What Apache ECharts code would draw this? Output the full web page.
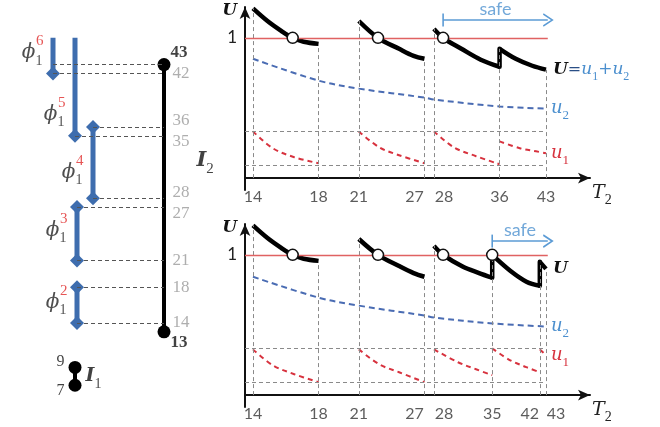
<!DOCTYPE html>
<html>
<head>
<meta charset="utf-8">
<script src="https://cdn.jsdelivr.net/npm/echarts@6/dist/echarts.min.js"></script>
<style>
html, body { margin: 0; background: #fff; }
#main { width: 660px; height: 427px; }
</style>
</head>
<body>
<div id="main"></div>
<script>
// ---- left panel: periods on the I2 scale
const phaseSup = ['6', '5', '4', '3', '2'];
const phaseLow = [42, 35, 28, 21, 14];
const phaseHigh = [46, 46, 36, 27, 18];        // 46 = runs off the top (open)
const phaseOpenTop = [true, true, false, false, false];
const phaseLane = [0, 1.1, 2, 1.2, 1.2];
const phaseTagAt = [44.6, 37.7, 31.2, 24.7, 16.6];
const i2Span = [13, 43];
const i2Lane = 5.55;
const i1Span = [7, 9];
const i1Lane = 1.1;
const i2Marks = [42, 36, 35, 28, 27, 21, 18, 14];

// ---- right panels: T2 ticks
const topTicks = [14, 18, 21, 27, 28, 36, 43];
const botTicks = [14, 18, 21, 27, 28, 35, 42, 43];

// top panel, [T2, value]
const topU = [
  [[14, 1.21], [14.8, 1.12], [15.6, 1.05], [16.3, 1.0], [17, 0.972], [18, 0.957]],
  [[21, 1.12], [22.6, 1.0], [24.5, 0.922], [25.9, 0.872], [27, 0.851]],
  [[28, 1.064], [29, 1.0], [31.1, 0.922], [33.5, 0.844], [36, 0.794]],
  [[36, 0.794], [36, 0.922]],
  [[36, 0.922], [38.3, 0.851], [40.8, 0.801], [43, 0.773]]
];
const topU2 = [[14, 0.851], [18, 0.695], [21, 0.638], [27, 0.574], [28, 0.56], [36, 0.511], [43, 0.496]];
const topU1 = [
  [[14, 0.333], [15.1, 0.213], [16.4, 0.149], [18, 0.106]],
  [[21, 0.333], [22.7, 0.22], [24.5, 0.163], [27, 0.106]],
  [[28, 0.333], [30.2, 0.22], [32.9, 0.156], [36, 0.099]],
  [[36, 0.262], [38.9, 0.213], [41.4, 0.191], [43, 0.177]]
];
const topHits = [[16.3, 1], [22.6, 1], [29, 1]];
const topSafe = [29, 43.3, 1.127];
const topGuides = [0.333, 0.09];

// bottom panel
const botU = [
  [[14, 1.21], [14.8, 1.12], [15.6, 1.05], [16.3, 1.0], [17, 0.972], [18, 0.957]],
  [[21, 1.113], [22.6, 1.0], [24.5, 0.92], [25.9, 0.87], [27, 0.844]],
  [[28, 1.064], [29, 1.0], [31.3, 0.915], [33.2, 0.872], [35, 0.837]],
  [[35, 0.837], [35, 1.0]],
  [[35, 1.0], [37.5, 0.887], [39.9, 0.809], [42, 0.78]],
  [[42, 0.78], [42, 0.95]],
  [[42, 0.95], [43, 0.9]]
];
const botU2 = [[14, 0.844], [18, 0.695], [21, 0.638], [27, 0.567], [28, 0.553], [35, 0.511], [43, 0.489]];
const botU1 = [
  [[14, 0.326], [15.1, 0.213], [16.4, 0.149], [18, 0.092]],
  [[21, 0.326], [22.7, 0.22], [24.5, 0.163], [27, 0.092]],
  [[28, 0.326], [30.7, 0.234], [32.9, 0.184], [35, 0.142]],
  [[35, 0.333], [37.5, 0.248], [39.9, 0.199], [42, 0.163]],
  [[42, 0.326], [43, 0.284]]
];
const botHits = [[16.3, 1], [22.6, 1], [29, 1], [35, 1]];
const botSafe = [35, 43.3, 1.098];
const botGuides = [0.333, 0.092];

const tMin = 13.58, tMax = 50.9;
const uMin = -0.085, uMax = 1.22;

const SERIF = '"DejaVu Serif", serif';
const NUM = '"Liberation Serif", serif';
const SANS = 'Lato, "Open Sans", sans-serif';
const barBlue = '#3e6dae';
const lineBlue = '#4a6cb3';
const textBlue = '#4b8fce';
const red = '#d7323e';
const guide = '#8a8a8a';

// rich styles: a main italic letter and a lowered subscript digit
function letterSub(size, color, bold) {
  return {
    m: { fontFamily: SERIF, fontStyle: 'italic', fontWeight: bold ? 'bold' : 'normal', fontSize: size, color: color, lineHeight: Math.round(size * 1.5) },
    s: { fontFamily: NUM, fontSize: Math.round(size * 0.72), color: color, verticalAlign: 'bottom', lineHeight: Math.round(size * 0.8) }
  };
}

const chart = echarts.init(document.getElementById('main'));

function textMarks(g, data, label) {
  return {
    type: 'scatter', xAxisIndex: g, yAxisIndex: g, silent: true, z: 6,
    symbolSize: 1, itemStyle: { color: 'rgba(0,0,0,0)' },
    data: data, label: Object.assign({ show: true }, label)
  };
}

const series = [];

// blue period bars
phaseLow.forEach((lo, i) => {
  series.push({
    type: 'line', xAxisIndex: 0, yAxisIndex: 0, silent: true, z: 3,
    showSymbol: true, symbolSize: 14,
    lineStyle: { color: barBlue, width: 5 }, itemStyle: { color: barBlue },
    data: [
      { value: [phaseLane[i], lo], symbol: 'diamond' },
      { value: [phaseLane[i], phaseHigh[i]], symbol: phaseOpenTop[i] ? 'none' : 'diamond' }
    ]
  });
});

// dashed links from bar ends to I2
const links = [];
phaseLow.forEach((lo, i) => {
  links.push([lo, phaseLane[i]]);
  if (!phaseOpenTop[i]) links.push([phaseHigh[i], phaseLane[i]]);
});
const coverLane = Math.min(...phaseLane.filter((l, i) => phaseLow[i] <= i2Span[1] && phaseHigh[i] >= i2Span[1]));
links.push([i2Span[1], coverLane]);
series.push({
  type: 'line', xAxisIndex: 0, yAxisIndex: 0, data: [], z: 1,
  markLine: {
    silent: true, symbol: 'none', label: { show: false },
    lineStyle: { color: '#555', width: 1, type: [4, 3] },
    data: links.map(([v, l]) => [{ coord: [l, v] }, { coord: [i2Lane, v] }])
  }
});

// I2 and I1 bars
[[i2Span, i2Lane], [i1Span, i1Lane]].forEach(([span, lane]) => {
  series.push({
    type: 'line', xAxisIndex: 0, yAxisIndex: 0, silent: true, z: 4,
    showSymbol: true, symbol: 'circle', symbolSize: 13,
    lineStyle: { color: '#000', width: 4 }, itemStyle: { color: '#000' },
    data: span.map(v => [lane, v])
  });
});

// close neighbours on the I2 scale are pushed apart: higher one up, lower one down
const nudge = (list, v) => list.includes(v - 1) ? -6 : list.includes(v + 1) ? 6 : 0;
series.push(textMarks(0, i2Marks.map(v => ({ value: [i2Lane, v], label: { offset: [0, nudge(i2Marks, v)] } })),
  { position: 'right', distance: 8, formatter: p => String(p.value[1]), fontFamily: NUM, fontSize: 17, color: '#9a9a9a' }));
series.push(textMarks(0, [
  { value: [i2Lane, i2Span[1]], label: { offset: [0, -12] } },
  { value: [i2Lane, i2Span[0]], label: { offset: [0, 11] } }
], { position: 'right', distance: 6, formatter: p => String(p.value[1]), fontFamily: NUM, fontWeight: 'bold', fontSize: 17, color: '#111' }));
series.push(textMarks(0, [
  { value: [i1Lane, i1Span[1]], label: { offset: [0, -6] } },
  { value: [i1Lane, i1Span[0]], label: { offset: [0, 6] } }
], { position: 'left', distance: 10, formatter: p => String(p.value[1]), fontFamily: NUM, fontSize: 16, color: '#111' }));
series.push(textMarks(0, [{ value: [i2Lane, (i2Span[0] + i2Span[1]) / 2], label: { offset: [0, -38] } }],
  { position: 'right', distance: 32, formatter: '{m|I}{s|2}', rich: letterSub(21, '#111', true) }));
series.push(textMarks(0, [[i1Lane, (i1Span[0] + i1Span[1]) / 2]],
  { position: 'right', distance: 10, formatter: '{m|I}{s|1}', rich: letterSub(19, '#111', true) }));
series.push(textMarks(0, phaseTagAt.map((v, i) => [phaseLane[i], v]),
  { position: 'left', distance: 10, offset: [0, 3], formatter: '{m|ϕ}{s|1}', rich: letterSub(20, '#222', false) }));
series.push(textMarks(0, phaseTagAt.map((v, i) => [phaseLane[i], v]),
  { position: 'left', distance: 10, offset: [1, -9], formatter: p => phaseSup[p.dataIndex], fontFamily: NUM, fontSize: 15, color: '#e02a2a' }));

// ---- right panels
function panel(g, ticks, uSegs, u2, u1Segs, hits, safe, guides, uText) {
  const allU = uSegs.flat();
  const peaks = ticks.map(t => Math.max(...allU.filter(p => p[0] === t).map(p => p[1])));
  const last = ticks[ticks.length - 1];
  series.push({
    type: 'line', xAxisIndex: g, yAxisIndex: g, data: [], z: 1,
    markLine: {
      silent: true, symbol: 'none', label: { show: false },
      lineStyle: { color: guide, width: 1, type: [4, 3] },
      data: ticks.map((t, i) => [{ coord: [t, 0] }, { coord: [t, peaks[i]] }])
        .concat(guides.map(v => [{ coord: [tMin, v] }, { coord: [last, v] }]))
    }
  });
  series.push({
    type: 'line', xAxisIndex: g, yAxisIndex: g, data: [], z: 1,
    markLine: {
      silent: true, symbol: 'none', label: { show: false },
      lineStyle: { color: '#e06262', width: 1.3, type: 'solid' },
      data: [[{ coord: [tMin, 1] }, { coord: [safe[1], 1] }]]
    }
  });
  series.push({
    type: 'line', xAxisIndex: g, yAxisIndex: g, silent: true, z: 3, smooth: 0.35, showSymbol: false,
    lineStyle: { color: lineBlue, width: 2, type: [6, 4] }, data: u2,
    endLabel: { show: true, distance: 5, formatter: '{m|u}{s|2}', rich: letterSub(18, textBlue, false) }
  });
  u1Segs.forEach((seg, i) => series.push({
    type: 'line', xAxisIndex: g, yAxisIndex: g, silent: true, z: 3, smooth: 0.35, showSymbol: false,
    lineStyle: { color: red, width: 2, type: [5, 4] }, data: seg,
    endLabel: { show: i === u1Segs.length - 1, distance: 5, formatter: '{m|u}{s|1}', rich: letterSub(18, red, false) }
  }));
  const uRich = letterSub(17, textBlue, false);
  uRich.b = { fontFamily: SERIF, fontStyle: 'italic', fontWeight: 'bold', fontSize: 17, color: '#111', lineHeight: 25 };
  uRich.e = { fontFamily: SERIF, fontSize: 16, color: '#2a4f86', lineHeight: 25 };
  uSegs.forEach((seg, i) => series.push({
    type: 'line', xAxisIndex: g, yAxisIndex: g, silent: true, z: 4, smooth: 0.35, showSymbol: false,
    lineStyle: { color: '#000', width: 4.5, cap: seg[0][0] === seg[seg.length - 1][0] ? 'round' : 'butt' }, data: seg,
    endLabel: { show: i === uSegs.length - 1, distance: 7, formatter: uText, rich: uRich }
  }));
  series.push({
    type: 'scatter', xAxisIndex: g, yAxisIndex: g, silent: true, z: 5, symbolSize: 11,
    itemStyle: { color: '#fff', opacity: 1, borderColor: '#111', borderWidth: 1.5 }, data: hits
  });
  // safe arrow
  series.push({
    type: 'line', xAxisIndex: g, yAxisIndex: g, silent: true, z: 5, showSymbol: true,
    lineStyle: { color: '#5b9bd5', width: 1.5 }, itemStyle: { color: '#5b9bd5' },
    data: [
      { value: [safe[0], safe[2]], symbol: 'rect', symbolSize: [1.6, 13] },
      { value: [safe[1], safe[2]], symbol: 'path://M0,0L9,5L0,10', symbolSize: [9, 12],
        itemStyle: { color: 'rgba(0,0,0,0)', borderColor: '#5b9bd5', borderWidth: 1.5 } }
    ]
  });
  series.push(textMarks(g, [[Math.sqrt(safe[0] * safe[1]), safe[2]]],
    { position: 'top', distance: 1, formatter: 'safe', fontFamily: SANS, fontSize: 18, color: '#4f92d0' }));
  // T2 tick labels
  const shift = t => ticks.includes(t + 1) ? -10 : ticks.includes(t - 1) ? 10 : 0;
  series.push(textMarks(g, ticks.map(t => ({ value: [t, 0], label: { offset: [shift(t), 0] } })),
    { position: 'bottom', distance: 10, formatter: p => String(p.value[0]), fontFamily: SANS, fontSize: 16, color: '#333' }));
}

panel(1, topTicks, topU, topU2, topU1, topHits, topSafe, topGuides, '{b|U}{e|=}{m|u}{s|1}{m|+u}{s|2}');
panel(2, botTicks, botU, botU2, botU1, botHits, botSafe, botGuides, '{b|U}');

const rightX = g => ({
  gridIndex: g, type: 'log', min: tMin, max: tMax,
  axisLine: { show: true, onZero: true, lineStyle: { color: '#111', width: 2 }, symbol: ['none', 'arrow'], symbolSize: [8, 12] },
  axisTick: { show: false }, axisLabel: { show: false }, splitLine: { show: false }, minorTick: { show: false },
  name: '{m|T}{s|2}', nameLocation: 'end', nameGap: 2,
  nameTextStyle: { verticalAlign: 'top', padding: [0, 0, 0, 0], rich: letterSub(19, '#222', false) }
});
const rightY = g => ({
  gridIndex: g, type: 'value', min: uMin, max: uMax,
  axisLine: { show: true, onZero: false, lineStyle: { color: '#111', width: 2 }, symbol: ['none', 'arrow'], symbolSize: [8, 12] },
  axisTick: { show: false }, splitLine: { show: false },
  axisLabel: { customValues: [1], formatter: v => (v === 1 ? '1' : ''), fontFamily: SANS, fontSize: 17, color: '#222', margin: 8 },
  name: 'U', nameLocation: 'end', nameGap: -12,
  nameTextStyle: { fontFamily: SERIF, fontStyle: 'italic', fontWeight: 'bold', fontSize: 17, color: '#111', align: 'right', padding: [0, 8, 0, 0] }
});

chart.setOption({
  animation: false,
  grid: [
    { left: 13, top: 20, width: 200, height: 392 },
    { left: 245, top: 7, width: 345, height: 183 },
    { left: 245, top: 224, width: 345, height: 183 }
  ],
  xAxis: [{ gridIndex: 0, type: 'value', min: -2, max: 8, show: false }, rightX(1), rightX(2)],
  yAxis: [{ gridIndex: 0, type: 'value', min: 4, max: 48, show: false }, rightY(1), rightY(2)],
  series: series
});
</script>
</body>
</html>
